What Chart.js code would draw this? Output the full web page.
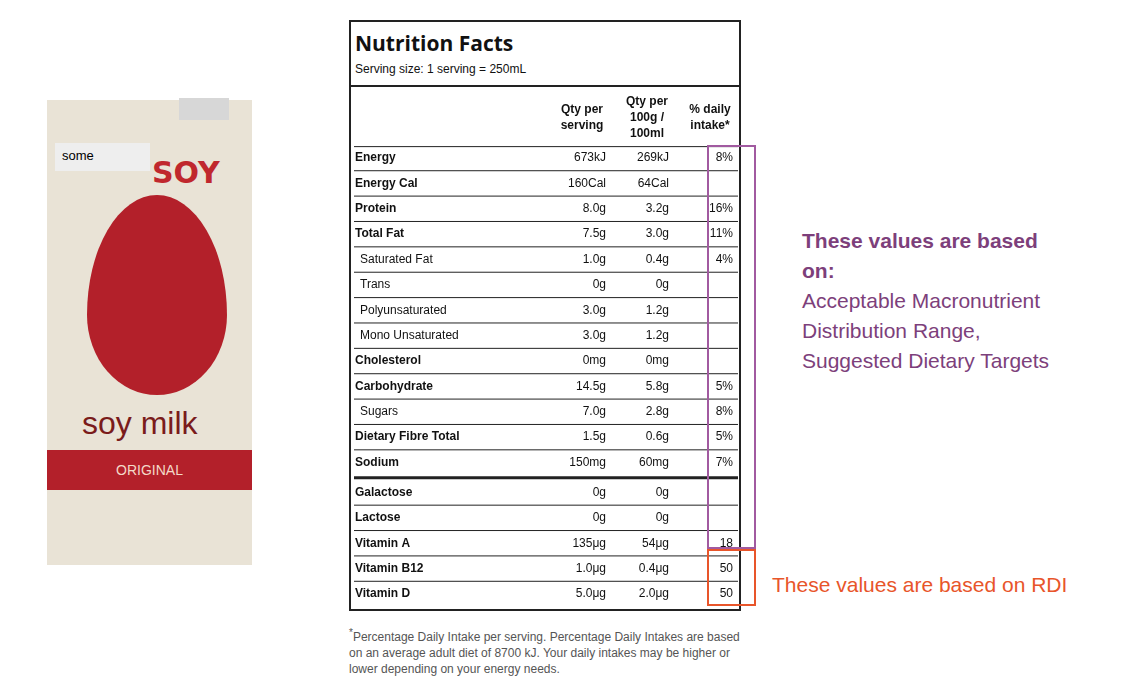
<!DOCTYPE html>
<html>
<head>
<meta charset="utf-8">
<script src="https://cdn.jsdelivr.net/npm/chart.js@4"></script>
<style>
  body { margin:0; width:1138px; height:681px; background:#fff; font-family:"Liberation Sans", Arial, sans-serif; position:relative; overflow:hidden; }
  .carton { position:absolute; left:47px; top:100px; width:205px; height:465px; background:#e9e3d6; }
  .drop { position:absolute; left:40px; top:95px; width:140px; height:200px; background:#b3202a; border-radius:50% 50% 50% 50% / 60% 60% 40% 40%; }
  .soy { position:absolute; left:105px; top:55px; font:bold 30px "DejaVu Sans"; color:#c0272d; }
  .name { position:absolute; left:35px; top:305px; font:32px "Liberation Sans"; color:#7a1b1b; }
  .band { position:absolute; left:0; top:350px; width:205px; height:40px; background:#b3202a; color:#f3d9c8; font:14px "Liberation Sans"; text-align:center; line-height:40px; }
  .cap { position:absolute; left:132px; top:-2px; width:50px; height:22px; background:#d7d7d7; }
  .some { position:absolute; left:55px; top:143px; width:95px; height:28px; background:#eeeeee; font:13px "Liberation Sans"; padding:5px 0 0 7px; box-sizing:border-box; }
  .box { position:absolute; left:349px; top:20px; width:392px; height:591px; border:2px solid #222; box-sizing:border-box; }
  .title { position:absolute; left:355px; top:29px; font:bold 21px "Open Sans", "Liberation Sans"; color:#111; }
  .serv { position:absolute; left:355px; top:62px; font:12px "Liberation Sans"; color:#111; }
  .hr1 { position:absolute; left:349px; top:85px; width:392px; height:2px; background:#222; }
  #wrap { position:absolute; left:349px; top:20px; width:394px; height:593px; }
  .pbox { position:absolute; left:707px; top:145px; width:49px; height:404px; border:2px solid #a15aa0; box-sizing:border-box; }
  .obox { position:absolute; left:707px; top:549px; width:49px; height:57px; border:2px solid #e8552a; box-sizing:border-box; }
  .ptext { position:absolute; left:802px; top:226px; color:#7d3f7b; font:21px "Liberation Sans"; line-height:30px; }
  .otext { position:absolute; left:772px; top:573px; color:#e8552a; font:21px "Liberation Sans"; }
  .foot { position:absolute; left:349px; top:625px; width:392px; color:#555; font:12px "Liberation Sans"; line-height:16px; }
</style>
</head>
<body>
<div class="carton"><div class="cap"></div><div class="drop"></div><div class="soy">SOY</div><div class="name">soy milk</div><div class="band">ORIGINAL</div></div>
<div class="some">some</div>
<div class="box"></div>
<div class="title">Nutrition Facts</div>
<div class="serv">Serving size: 1 serving = 250mL</div>
<div class="hr1"></div>
<div id="wrap"><canvas id="label"></canvas></div>
<div class="pbox"></div>
<div class="obox"></div>
<div class="ptext"><b>These values are based<br>on:</b><br>Acceptable Macronutrient<br>Distribution Range,<br>Suggested Dietary Targets</div>
<div class="otext">These values are based on RDI</div>
<div class="foot"><sup>*</sup>Percentage Daily Intake per serving. Percentage Daily Intakes are based on an average adult diet of 8700 kJ. Your daily intakes may be higher or lower depending on your energy needs.</div>
<script>
const nutrients = ['Energy', 'Energy Cal', 'Protein', 'Total Fat', 'Saturated Fat', 'Trans', 'Polyunsaturated', 'Mono Unsaturated', 'Cholesterol', 'Carbohydrate', 'Sugars', 'Dietary Fibre Total', 'Sodium', 'Galactose', 'Lactose', 'Vitamin A', 'Vitamin B12', 'Vitamin D'];
const perServing = ['673kJ', '160Cal', '8.0g', '7.5g', '1.0g', '0g', '3.0g', '3.0g', '0mg', '14.5g', '7.0g', '1.5g', '150mg', '0g', '0g', '135\u03bcg', '1.0\u03bcg', '5.0\u03bcg'];
const per100 = ['269kJ', '64Cal', '3.2g', '3.0g', '0.4g', '0g', '1.2g', '1.2g', '0mg', '5.8g', '2.8g', '0.6g', '60mg', '0g', '0g', '54\u03bcg', '0.4\u03bcg', '2.0\u03bcg'];
const dailyIntake = ['8%', '', '16%', '11%', '4%', '', '', '', '', '5%', '8%', '5%', '7%', '', '', '18', '50', '50'];
const subRows = ['Saturated Fat', 'Trans', 'Polyunsaturated', 'Mono Unsaturated', 'Sugars'];
const headers = [['Qty per', 'serving'], ['Qty per', '100g /', '100ml'], ['% daily', 'intake*']];

// row position on the y scale, with a small gap after Sodium
function rowValue(i) { return i + (i > 12 ? 0.18 : 0); }

const tablePlugin = {
  id: 'tablePlugin',
  afterDraw(chart) {
    const ctx = chart.ctx, x = chart.scales.x, y = chart.scales.y;
    const colName = x.getPixelForValue(6), colServ = x.getPixelForValue(257);
    const col100 = x.getPixelForValue(320), colPct = x.getPixelForValue(384);
    const lineL = x.getPixelForValue(5), lineR = x.getPixelForValue(389);
    ctx.save();
    ctx.textBaseline = 'middle';
    ctx.fillStyle = '#111';
    // headers
    ctx.font = 'bold 12px "Liberation Sans"';
    ctx.textAlign = 'center';
    const hx = [x.getPixelForValue(233), x.getPixelForValue(298), x.getPixelForValue(361)];
    headers.forEach((h, c) => {
      const start = h.length === 3 ? -2.22 : -2.22 + 0.32;
      h.forEach((t, k) => ctx.fillText(t, hx[c], y.getPixelForValue(start + k * 0.63)));
    });
    ctx.strokeStyle = '#222';
    ctx.lineWidth = 1;
    ctx.beginPath();
    ctx.moveTo(lineL, y.getPixelForValue(-0.45)); ctx.lineTo(lineR, y.getPixelForValue(-0.45));
    ctx.stroke();
    nutrients.forEach((n, i) => {
      const py = y.getPixelForValue(rowValue(i));
      const sub = subRows.includes(n);
      ctx.font = (sub ? '' : 'bold ') + '12px "Liberation Sans"';
      ctx.textAlign = 'left';
      ctx.fillText(n, colName + (sub ? 5 : 0), py);
      ctx.font = '12px "Liberation Sans"';
      ctx.textAlign = 'right';
      ctx.fillText(perServing[i], colServ, py);
      ctx.fillText(per100[i], col100, py);
      ctx.fillText(dailyIntake[i], colPct, py);
      if (i < nutrients.length - 1) {
        const ly = y.getPixelForValue(i === 12 ? 12.6 : rowValue(i) + 0.5);
        ctx.lineWidth = i === 12 ? 3 : 1;
        ctx.beginPath(); ctx.moveTo(lineL, ly); ctx.lineTo(lineR, ly); ctx.stroke();
      }
    });
    ctx.restore();
  }
};

new Chart(document.getElementById('label'), {
  type: 'scatter',
  data: { datasets: [{ data: [] }] },
  options: {
    responsive: true,
    maintainAspectRatio: false,
    animation: false,
    layout: { padding: 0 },
    plugins: { legend: { display: false }, tooltip: { enabled: false } },
    scales: {
      x: { type: 'linear', min: 0, max: 394, display: false },
      y: { type: 'linear', min: -5.44, max: 17.93, reverse: true, display: false }
    }
  },
  plugins: [tablePlugin]
});
</script>
</body>
</html>
